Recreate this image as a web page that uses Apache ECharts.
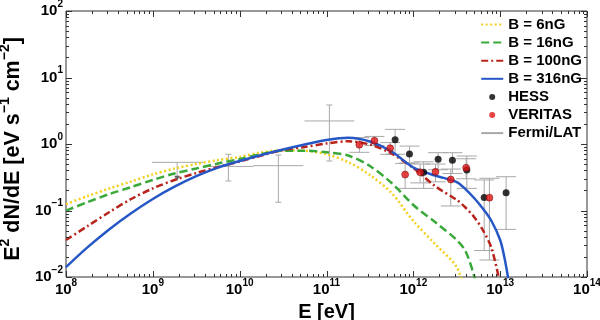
<!DOCTYPE html>
<html><head><meta charset="utf-8">
<script src="https://cdn.jsdelivr.net/npm/echarts@6/dist/echarts.min.js"></script>
<style>html,body{margin:0;padding:0;background:#fff}#c{width:600px;height:320px}</style>
</head><body><div id="c"></div>
<script>
// ---- model curves (energy in eV, E^2 dN/dE in eV s^-1 cm^-2) ----
const energyGrid = [1e8, 1.778e8, 3.162e8, 5.623e8, 1e9, 1.778e9, 3.162e9, 5.623e9, 1e10, 1.778e10, 3.162e10, 5.623e10,
  1e11, 1.778e11, 3.162e11, 5.623e11, 1e12, 1.778e12, 3.162e12, 3.981e12, 5.012e12, 6.310e12, 7.943e12, 1e13, 1.122e13, 1.259e13];
const fluxB6   = [0.125, 0.165, 0.214, 0.273, 0.349, 0.428, 0.500, 0.574, 0.638, 0.745, 0.804, 0.793,
  0.703, 0.536, 0.342, 0.183, 0.0695, 0.0313, 0.0141, 0.0054, null, null, null, null, null, null];
const fluxB16  = [0.0993, 0.134, 0.177, 0.225, 0.288, 0.360, 0.428, 0.509, 0.594, 0.707, 0.793, 0.793,
  0.750, 0.671, 0.467, 0.259, 0.121, 0.0671, 0.036, 0.0246, 0.0104, 0.003, null, null, null, null];
const fluxB100 = [0.036, 0.0585, 0.0948, 0.149, 0.215, 0.288, 0.366, 0.451, 0.547, 0.671, 0.812, 0.902,
  1.02, 1.10, 0.982, 0.719, 0.436, 0.233, 0.144, 0.111, 0.0798, 0.0509, 0.0273, 0.00785, null, null];
const fluxB316 = [0.0141, 0.0281, 0.0524, 0.091, 0.149, 0.228, 0.328, 0.442, 0.555, 0.684, 0.826, 0.982,
  1.148, 1.24, 1.09, 0.771, 0.443, 0.336, 0.268, 0.210, 0.154, 0.107, 0.0695, 0.036, 0.0193, 0.0084];

// ---- HESS ----
const hessE    = [6.17e11, 9.02e11, 1.315e12, 1.93e12, 2.82e12, 4.13e12, 6.55e12, 1.17e13];
const hessFlux = [1.16, 0.71, 0.377, 0.589, 0.569, 0.406, 0.157, 0.185];
const hessLow  = [0.70, 0.52, 0.215, 0.41, 0.36, 0.215, 0.025, 0.052];
const hessHigh = [1.66, 0.93, 0.54, 0.74, 0.74, 0.66, 0.288, 0.322];

// ---- VERITAS ----
const veritasE    = [2.39e11, 3.565e11, 5.41e11, 8.05e11, 1.197e12, 1.80e12, 2.70e12, 4.055e12, 7.52e12];
const veritasFlux = [0.973, 1.12, 0.865, 0.347, 0.375, 0.382, 0.292, 0.438, 0.156];
const veritasLow  = [0.75, 0.95, 0.70, 0.215, 0.26, 0.27, 0.117, 0.30, 0.018];
const veritasHigh = [1.245, 1.3, 1.05, 0.51, 0.5, 0.5, 0.42, 0.6, 0.305];

// ---- Fermi/LAT ----
const fermiE     = [1.905e9, 7.41e9, 2.79e10, 1.08e11];
const fermiELow  = [9.77e8, 3.80e9, 1.44e10, 5.56e10];
const fermiEHigh = [3.80e9, 1.445e10, 5.42e10, 2.09e11];
const fermiFlux  = [0.53, 0.46, 0.472, 2.22];
const fermiLow   = [0.28, 0.278, 0.133, 0.555];
const fermiHigh  = [0.53, 0.70, 0.684, 3.86];
const fermiUL    = [1, 0, 0, 0];

// ---- axes ----
const xTickExp = [8, 9, 10, 11, 12, 13, 14];
const yTickExp = [-2, -1, 0, 1, 2];
const seriesNames = ['B = 6nG', 'B = 16nG', 'B = 100nG', 'B = 316nG', 'HESS', 'VERITAS', 'Fermi/LAT'];

const FONT = 'Liberation Sans';
function pair(xs, ys) { const o = []; xs.forEach((x, i) => { if (ys[i] != null) o.push([x, ys[i]]); }); return o; }
function expLabel(v) {
  const e = Math.round(Math.log10(v));
  return '{b|10}{s|' + (e < 0 ? '\u2212' + (-e) : e) + '}';
}
const labelRich = {
  b: {fontFamily: FONT, fontWeight: 'bold', fontSize: 15, color: '#000', verticalAlign: 'middle', lineHeight: 24},
  s: {fontFamily: FONT, fontWeight: 'bold', fontSize: 10, color: '#000', verticalAlign: 'top'}
};

// tick marks (major + minor) on all four sides
const tickData = [];
for (let i = 0; i < xTickExp.length; i++) {
  const d = xTickExp[i];
  tickData.push([Math.pow(10, d), 1, 0, 1]);
  if (i < xTickExp.length - 1) for (let k = 2; k <= 9; k++) tickData.push([k * Math.pow(10, d), 1, 0, 0]);
}
for (let i = 0; i < yTickExp.length; i++) {
  const d = yTickExp[i];
  tickData.push([1e8, Math.pow(10, d), 1, 1]);
  if (i < yTickExp.length - 1) for (let k = 2; k <= 9; k++) tickData.push([1e8, k * Math.pow(10, d), 1, 0]);
}
function tickRender(params, api) {
  const cs = params.coordSys;
  const kind = api.value(2), major = api.value(3);
  const len = major ? 6 : 3;
  const st = {stroke: '#333', lineWidth: 1};
  const p = api.coord([api.value(0), api.value(1)]);
  if (kind === 0) {
    const x = Math.round(p[0]) + 0.5;
    return {type: 'group', children: [
      {type: 'line', shape: {x1: x, y1: cs.y + cs.height, x2: x, y2: cs.y + cs.height - len}, style: st},
      {type: 'line', shape: {x1: x, y1: cs.y, x2: x, y2: cs.y + len}, style: st}
    ]};
  }
  const y = Math.round(p[1]) + 0.5;
  return {type: 'group', children: [
    {type: 'line', shape: {x1: cs.x, y1: y, x2: cs.x + len, y2: y}, style: st},
    {type: 'line', shape: {x1: cs.x + cs.width, y1: y, x2: cs.x + cs.width - len, y2: y}, style: st}
  ]};
}

const ERR = '#a8a8a8';
function errRender(params, api) {
  const e = api.value(0);
  const top = api.coord([e, api.value(3)]), bot = api.coord([e, api.value(2)]);
  const cap = 10, st = {stroke: ERR, lineWidth: 1};
  return {type: 'group', children: [
    {type: 'line', shape: {x1: top[0], y1: top[1], x2: bot[0], y2: bot[1]}, style: st},
    {type: 'line', shape: {x1: top[0] - cap, y1: top[1], x2: top[0] + cap, y2: top[1]}, style: st},
    {type: 'line', shape: {x1: bot[0] - cap, y1: bot[1], x2: bot[0] + cap, y2: bot[1]}, style: st}
  ]};
}
function fermiRender(params, api) {
  const e = api.value(0), f = api.value(1);
  const l = api.coord([api.value(4), f]), r = api.coord([api.value(5), f]);
  const top = api.coord([e, api.value(3)]), bot = api.coord([e, api.value(2)]);
  const st = {stroke: ERR, lineWidth: 1};
  const ch = [{type: 'line', shape: {x1: l[0], y1: l[1], x2: r[0], y2: r[1]}, style: st},
              {type: 'line', shape: {x1: top[0], y1: top[1], x2: bot[0], y2: bot[1]}, style: st}];
  if (api.value(6)) {
    ch.push({type: 'polygon', shape: {points: [[bot[0] - 3, bot[1] - 5], [bot[0] + 3, bot[1] - 5], [bot[0], bot[1]]]}, style: {fill: '#666'}});
  } else {
    ch.push({type: 'line', shape: {x1: top[0] - 3, y1: top[1], x2: top[0] + 3, y2: top[1]}, style: st});
    ch.push({type: 'line', shape: {x1: bot[0] - 3, y1: bot[1], x2: bot[0] + 3, y2: bot[1]}, style: st});
  }
  return {type: 'group', children: ch};
}

function curve(name, data, color, type) {
  return {name: name, type: 'line', data: pair(energyGrid, data), showSymbol: false, symbol: 'none',
    smooth: 0.3, clip: true, z: 3, lineStyle: {color: color, width: 2.5, type: type}, itemStyle: {color: color}};
}
const noDot = {opacity: 0};

const chart = echarts.init(document.getElementById('c'), null, {renderer: 'canvas'});
chart.setOption({
  backgroundColor: '#fff',
  animation: false,
  grid: {left: 66, right: 13, top: 11, bottom: 43, containLabel: false, outerBoundsMode: 'none',
    show: true, borderColor: '#333', borderWidth: 1, backgroundColor: 'transparent'},
  legend: {
    data: [
      {name: seriesNames[0], itemStyle: noDot}, {name: seriesNames[1], itemStyle: noDot},
      {name: seriesNames[2], itemStyle: noDot}, {name: seriesNames[3], itemStyle: noDot},
      {name: seriesNames[4]}, {name: seriesNames[5], itemStyle: {borderWidth: 0}}, {name: seriesNames[6], itemStyle: noDot}
    ],
    orient: 'vertical', right: 18, top: 17, itemWidth: 22, itemHeight: 6, itemGap: 3.1, padding: 0,
    textStyle: {fontFamily: FONT, fontWeight: 'bold', fontSize: 15, color: '#000'}, selectedMode: false
  },
  xAxis: {
    type: 'log', logBase: 10, min: 1e8, max: 1e14, splitNumber: 6,
    axisLine: {show: false}, axisTick: {show: false}, splitLine: {show: false}, minorTick: {show: false},
    axisLabel: {formatter: expLabel, rich: labelRich, margin: 1, showMinLabel: true, showMaxLabel: true},
    name: 'E [eV]', nameLocation: 'middle', nameGap: 18,
    nameTextStyle: {fontFamily: FONT, fontWeight: 'bold', fontSize: 20, color: '#000'}
  },
  yAxis: {
    type: 'log', logBase: 10, min: 1e-2, max: 1e2, splitNumber: 4,
    axisLine: {show: false}, axisTick: {show: false}, splitLine: {show: false}, minorTick: {show: false},
    axisLabel: {formatter: expLabel, rich: labelRich, margin: 3, showMinLabel: true, showMaxLabel: true},
    name: '{a|E}{s|2}{a| dN/dE [eV s}{s|\u22121}{a| cm}{s|\u22122}{a|]}', nameLocation: 'middle', nameGap: 28, nameRotate: 90,
    nameTextStyle: {padding: [0, 10, 0, 0], rich: {
      a: {fontFamily: FONT, fontWeight: 'bold', fontSize: 21.5, color: '#000', verticalAlign: 'middle', lineHeight: 30},
      s: {fontFamily: FONT, fontWeight: 'bold', fontSize: 14, color: '#000', verticalAlign: 'top'}
    }}
  },
  series: [
    {type: 'custom', silent: true, renderItem: fermiRender, z: 1,
      data: fermiE.map((e, i) => [e, fermiFlux[i], fermiLow[i], fermiHigh[i], fermiELow[i], fermiEHigh[i], fermiUL[i]])},
    {type: 'custom', silent: true, renderItem: errRender, z: 1,
      data: hessE.map((e, i) => [e, hessFlux[i], hessLow[i], hessHigh[i]])},
    {type: 'custom', silent: true, renderItem: errRender, z: 1,
      data: veritasE.map((e, i) => [e, veritasFlux[i], veritasLow[i], veritasHigh[i]])},
    curve('B = 6nG', fluxB6, '#f4cf1c', [2, 2.5]),
    curve('B = 16nG', fluxB16, '#3aa93a', [8, 4]),
    curve('B = 100nG', fluxB100, '#b8241c', [7, 3, 2, 3]),
    curve('B = 316nG', fluxB316, '#2657c6', 'solid'),
    {name: 'HESS', type: 'scatter', symbol: 'circle', symbolSize: 7, z: 5, data: pair(hessE, hessFlux),
      itemStyle: {color: '#000'}},
    {name: 'VERITAS', type: 'scatter', symbol: 'circle', symbolSize: 7, z: 5, data: pair(veritasE, veritasFlux),
      itemStyle: {color: '#e01414', borderColor: '#6a0000', borderWidth: 0.6}},
    {name: 'Fermi/LAT', type: 'line', data: [], showSymbol: false, symbol: 'none',
      lineStyle: {color: '#a8a8a8', width: 1}, itemStyle: {color: '#a8a8a8'}},
    {type: 'custom', silent: true, renderItem: tickRender, z: 6, clip: false, data: tickData}
  ]
});
</script></body></html>
